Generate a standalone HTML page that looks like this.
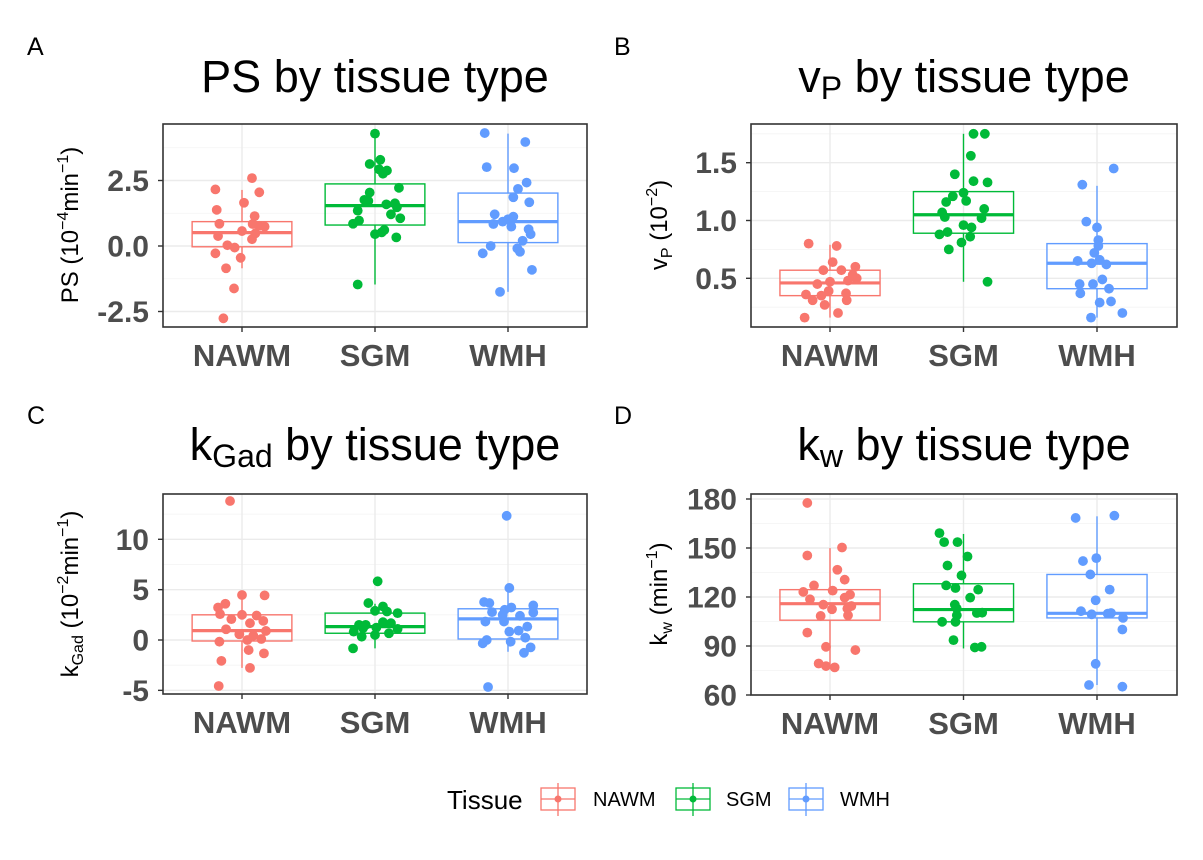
<!DOCTYPE html>
<html><head><meta charset="utf-8"><style>
html,body{margin:0;padding:0;background:#fff;}
svg{display:block;font-family:"Liberation Sans",Arial,sans-serif;}
</style></head><body>
<svg id="fig" width="1203" height="860" viewBox="0 0 1203 860" xmlns="http://www.w3.org/2000/svg">
<rect x="0" y="0" width="1203" height="860" fill="#fff"/>
</svg>
<script>
// ---------- data ----------
const categories = ["NAWM","SGM","WMH"];
const colors = ["#F8766D","#00BA38","#619CFF"];

// Panel A: PS
const psTicks = [-2.5, 0.0, 2.5];
const psTickLabels = ["-2.5","0.0","2.5"];
const psNAWM = [2.16,2.59,2.05,1.65,1.38,0.85,1.14,0.84,0.77,0.74,0.57,0.38,0.48,0.26,0.03,-0.06,-0.28,-0.45,-0.85,-1.62,-2.76];
const psNAWMJit = [-0.2,0.075,0.13,0.015,-0.19,-0.17,0.095,0.08,0.13,0.17,0,-0.18,0.1,0.075,-0.11,-0.055,-0.2,-0.01,-0.12,-0.06,-0.14];
const psSGM = [4.29,3.13,3.29,2.93,2.88,2.76,2.22,2.04,1.76,1.72,1.59,1.63,1.48,1.35,1.21,1.06,0.97,0.85,0.61,0.52,0.45,0.33,-1.47];
const psSGMJit = [0,-0.04,0.04,0.03,0.09,0.06,0.18,-0.04,-0.08,-0.05,0.085,0.15,0.165,-0.13,0.12,0.19,-0.12,-0.165,0.07,0.05,0,0.16,-0.13];
const psWMH = [4.31,3.97,3.01,2.97,2.42,2.18,1.86,1.67,1.21,1.12,1.02,0.93,0.84,0.74,0.64,0.45,0.2,0,-0.09,-0.22,-0.28,-0.91,-1.75];
const psWMHJit = [-0.175,0.13,-0.16,0.045,0.14,0.075,0.04,0.16,-0.1,0.04,0,-0.04,-0.11,0.025,0.155,0.17,0.11,-0.13,0.07,0.09,-0.19,0.18,-0.06];
const psBoxLow = [-0.85,-1.47,-1.75];
const psBoxQ1 = [-0.03,0.80,0.13];
const psBoxMed = [0.51,1.54,0.93];
const psBoxQ3 = [0.93,2.37,2.02];
const psBoxHigh = [2.14,4.29,4.29];

// Panel B: vP
const vpTicks = [0.5,1.0,1.5];
const vpTickLabels = ["0.5","1.0","1.5"];
const vpNAWM = [0.80,0.78,0.64,0.57,0.57,0.60,0.53,0.48,0.50,0.47,0.45,0.39,0.36,0.35,0.37,0.31,0.31,0.27,0.20,0.16];
const vpNAWMJit = [-0.16,0.05,0.02,-0.05,0.085,0.19,0.17,0.135,0.2,0,-0.095,-0.01,-0.18,-0.065,0.12,-0.13,0.125,-0.04,0.06,-0.19];
const vpSGM = [1.75,1.75,1.56,1.40,1.34,1.33,1.24,1.21,1.17,1.16,1.10,1.07,1.03,1.02,0.96,0.94,0.90,0.88,0.86,0.81,0.75,0.47];
const vpSGMJit = [0.075,0.16,0.055,-0.065,0.075,0.18,0,-0.08,0.02,-0.13,0.155,-0.16,-0.14,0.135,0,0.06,-0.12,-0.18,0.05,-0.015,-0.11,0.18];
const vpWMH = [1.45,1.31,0.99,0.94,0.83,0.78,0.72,0.65,0.66,0.63,0.62,0.49,0.45,0.45,0.41,0.37,0.29,0.30,0.20,0.16];
const vpWMHJit = [0.125,-0.11,-0.08,0,0.01,0.01,-0.02,-0.145,0.02,-0.04,0.07,0.04,-0.13,-0.03,0.09,-0.125,0.02,0.105,0.19,-0.045];
const vpBoxLow = [0.16,0.47,0.16];
const vpBoxQ1 = [0.35,0.89,0.41];
const vpBoxMed = [0.46,1.05,0.63];
const vpBoxQ3 = [0.57,1.25,0.80];
const vpBoxHigh = [0.79,1.75,1.30];

// Panel C: kGad
const kgTicks = [-5,0,5,10];
const kgTickLabels = ["-5","0","5","10"];
const kgNAWM = [13.8,4.47,4.43,3.6,3.23,2.57,2.5,2.43,2.07,1.9,1.67,1.07,0.9,0.57,0.43,0.1,0,-0.17,-1.0,-1.33,-2.07,-2.77,-4.57];
const kgNAWMJit = [-0.09,0,0.17,-0.125,-0.18,-0.165,0,0.11,-0.08,0.16,0.06,-0.12,0.18,-0.02,0.085,0.145,0.04,-0.17,0.05,0.165,-0.155,0.06,-0.175];
const kgSGM = [5.83,3.67,3.33,2.9,2.83,2.67,1.5,1.5,1.77,1.67,0.83,1.17,1.23,1.1,0.67,0.33,0.5,-0.83];
const kgSGMJit = [0.02,-0.05,0.06,0,0.09,0.17,-0.12,-0.07,0.06,0.12,-0.16,-0.09,0.01,0.17,0.105,-0.1,0,-0.165];
const kgWMH = [12.33,5.17,3.77,3.67,3.43,3.23,2.77,3.0,2.73,2.4,2.5,1.83,1.83,1.33,0.93,0.83,0.23,-0.17,0,-0.33,-0.73,-1.27,-4.67];
const kgWMHJit = [-0.01,0.01,-0.18,-0.14,0.19,0.025,-0.12,-0.025,0.19,0.09,-0.04,-0.17,-0.03,0.145,0.08,0.01,0.13,0.02,-0.16,-0.19,0.17,0.12,-0.15];
const kgBoxLow = [-2.77,-0.83,-1.17];
const kgBoxQ1 = [-0.1,0.67,0.1];
const kgBoxMed = [0.93,1.33,2.1];
const kgBoxQ3 = [2.5,2.67,3.1];
const kgBoxHigh = [4.47,3.6,5.17];

// Panel D: kw
const kwTicks = [60,90,120,150,180];
const kwTickLabels = ["60","90","120","150","180"];
const kwNAWM = [177.6,150.3,145.4,136.7,130.6,127.1,123.9,123.1,121.4,119.6,118.6,115.3,114.5,112.5,112.9,108.8,108.4,98.2,89.5,87.5,79.3,77.7,76.9];
const kwNAWMJit = [-0.17,0.09,-0.17,0.055,0.11,-0.12,0.02,-0.2,0.15,0.11,-0.15,-0.05,0.16,0.015,0.13,0.135,-0.07,-0.17,-0.03,0.19,-0.085,-0.03,0.035];
const kwSGM = [159.1,153.6,153.6,144.8,139.3,133.2,127.1,125.5,124.5,119.6,115.3,112.9,110.2,110.4,108.8,104.8,104.8,93.6,89.1,89.5];
const kwSGMJit = [-0.18,-0.145,-0.045,0.03,-0.12,-0.015,-0.13,-0.06,0.11,0.05,-0.065,-0.05,0.1,0.14,-0.05,-0.16,-0.06,-0.075,0.085,0.135];
const kwWMH = [168.4,169.8,142.0,143.8,133.8,124.5,118.0,111.3,109.4,109.8,110.2,107.2,100.1,79.1,66.1,65.1];
const kwWMHJit = [-0.16,0.13,-0.105,-0.005,-0.05,0.095,-0.01,-0.12,-0.04,0.08,0.105,0.195,0.19,-0.01,-0.06,0.19];
const kwBoxLow = [77.3,88.5,66.1];
const kwBoxQ1 = [105.8,104.8,107.2];
const kwBoxMed = [115.9,112.3,110.0];
const kwBoxQ3 = [124.5,128.1,133.8];
const kwBoxHigh = [149.9,158.6,169.4];

// ---------- drawing ----------
const NS = "http://www.w3.org/2000/svg";
const svg = document.getElementById("fig");
function mk(tag, attrs, parent){
  const e = document.createElementNS(NS, tag);
  for (const k in attrs) e.setAttribute(k, attrs[k]);
  (parent||svg).appendChild(e);
  return e;
}

function drawPanel(p){
  const g = mk("g", {});
  
  
  const L=p.left, R=p.right, T=p.top, B=p.bottom;
  const yS = v => p.y0 + (v - p.v0) * (p.y1 - p.y0) / (p.v1 - p.v0);
  const cx0 = p.c0, step = p.step;
  const xS = c => cx0 + c * step;
  mk("rect", {x:L, y:T, width:R-L, height:B-T, fill:"#fff"}, g);
  const gridG = mk("g", {}, g);
  
  
  const tickStep = p.ticks[1]-p.ticks[0];
  for (let v = p.ticks[0] - tickStep*2; v <= p.ticks[p.ticks.length-1] + tickStep*2; v += tickStep/2){
    const y = yS(v);
    if (y < T || y > B) continue;
    const major = p.ticks.some(t => Math.abs(t - v) < 1e-9);
    mk("line", {x1:L, x2:R, y1:y, y2:y, stroke: major?"#ebebeb":"#f3f3f3", "stroke-width": major?1.4:0.8}, gridG);
  }
  categories.forEach((c,i)=>{
    mk("line", {x1:xS(i), x2:xS(i), y1:T, y2:B, stroke:"#ebebeb", "stroke-width":1.4}, gridG);
  });
  const half = 0.375*step;
  categories.forEach((c,i)=>{
    const bg = mk("g", {}, g);
    
    
    const x = xS(i), col = colors[i];
    mk("line", {x1:x, x2:x, y1:yS(p.high[i]), y2:yS(p.q3[i]), stroke:col, "stroke-width":1.4}, bg);
    mk("line", {x1:x, x2:x, y1:yS(p.q1[i]), y2:yS(p.low[i]), stroke:col, "stroke-width":1.4}, bg);
    const yq3 = yS(p.q3[i]), yq1 = yS(p.q1[i]);
    mk("rect", {x:x-half, y:Math.min(yq3,yq1), width:2*half, height:Math.abs(yq1-yq3), fill:"none", stroke:col, "stroke-width":1.4}, bg);
    mk("line", {x1:x-half, x2:x+half, y1:yS(p.med[i]), y2:yS(p.med[i]), stroke:col, "stroke-width":3.2}, bg);
  });
  p.series.forEach((s,i)=>{
    const pg = mk("g", {}, g);
    
    
    s.vals.forEach((v,j)=>{
      const pt = mk("circle", {cx:xS(i + s.jit[j]), cy:yS(v), r:4.9, fill:colors[i]}, pg);
      
      
    });
  });
  const br = mk("rect", {x:L, y:T, width:R-L, height:B-T, fill:"none", stroke:"#333", "stroke-width":1.6}, g);
  
  
  const yax = mk("g", {}, g);
  
  
  p.ticks.forEach((t,k)=>{
    const y = yS(t);
    mk("line", {x1:L-5, x2:L, y1:y, y2:y, stroke:"#333", "stroke-width":1.4}, yax);
    const tx = mk("text", {x:L-14, y:y+10.5, "text-anchor":"end", "font-size":30, "font-weight":"bold", fill:"#4d4d4d"}, yax);
    tx.textContent = p.tickLabels[k];
    
    
  });
  const xax = mk("g", {}, g);
  
  
  categories.forEach((c,i)=>{
    const x = xS(i);
    mk("line", {x1:x, x2:x, y1:B, y2:B+5, stroke:"#333", "stroke-width":1.4}, xax);
    const tx = mk("text", {x:x, y:B+39, "text-anchor":"middle", "font-size":31, "font-weight":"bold", fill:"#4d4d4d"}, xax);
    tx.textContent = c;
    
    
  });
}

drawPanel({name:"ps", left:163, right:587, top:124, bottom:327, c0:242, step:133,
  v0:0, y0:246, v1:2.5, y1:180.5, ticks:psTicks, tickLabels:psTickLabels,
  low:psBoxLow, q1:psBoxQ1, med:psBoxMed, q3:psBoxQ3, high:psBoxHigh,
  series:[{vals:psNAWM,jit:psNAWMJit},{vals:psSGM,jit:psSGMJit},{vals:psWMH,jit:psWMHJit}]});
drawPanel({name:"vp", left:751, right:1177, top:124, bottom:327, c0:830, step:133.5,
  v0:0.5, y0:278.3, v1:1.5, y1:162.7, ticks:vpTicks, tickLabels:vpTickLabels,
  low:vpBoxLow, q1:vpBoxQ1, med:vpBoxMed, q3:vpBoxQ3, high:vpBoxHigh,
  series:[{vals:vpNAWM,jit:vpNAWMJit},{vals:vpSGM,jit:vpSGMJit},{vals:vpWMH,jit:vpWMHJit}]});
drawPanel({name:"kgad", left:163, right:587, top:494, bottom:694, c0:242, step:133,
  v0:0, y0:640, v1:10, y1:539.3, ticks:kgTicks, tickLabels:kgTickLabels,
  low:kgBoxLow, q1:kgBoxQ1, med:kgBoxMed, q3:kgBoxQ3, high:kgBoxHigh,
  series:[{vals:kgNAWM,jit:kgNAWMJit},{vals:kgSGM,jit:kgSGMJit},{vals:kgWMH,jit:kgWMHJit}]});
drawPanel({name:"kw", left:751, right:1177, top:494, bottom:695, c0:830, step:133.5,
  v0:60, y0:695, v1:180, y1:499, ticks:kwTicks, tickLabels:kwTickLabels,
  low:kwBoxLow, q1:kwBoxQ1, med:kwBoxMed, q3:kwBoxQ3, high:kwBoxHigh,
  series:[{vals:kwNAWM,jit:kwNAWMJit},{vals:kwSGM,jit:kwSGMJit},{vals:kwWMH,jit:kwWMHJit}]});
</script>
<svg style="position:absolute;left:0;top:0" width="1203" height="860" viewBox="0 0 1203 860" xmlns="http://www.w3.org/2000/svg" font-family="Liberation Sans, Arial, sans-serif">
  <text x="27" y="55" font-size="25">A</text>
  <text x="614" y="55" font-size="25">B</text>
  <text x="27" y="424" font-size="25">C</text>
  <text x="614" y="424" font-size="25">D</text>

  <text x="375" y="92" text-anchor="middle" font-size="45">PS by tissue type</text>
  <text x="964" y="92" text-anchor="middle" font-size="45">v<tspan font-size="32" dy="7">P</tspan><tspan dy="-7"> by tissue type</tspan></text>
  <text x="375" y="460" text-anchor="middle" font-size="45">k<tspan font-size="32" dy="7">Gad</tspan><tspan dy="-7"> by tissue type</tspan></text>
  <text x="964" y="460" text-anchor="middle" font-size="45">k<tspan font-size="32" dy="7">w</tspan><tspan dy="-7"> by tissue type</tspan></text>

  <text transform="translate(78,225) rotate(-90)" text-anchor="middle" font-size="24">PS (10<tspan font-size="16" dy="-10">−4</tspan><tspan dy="10">min</tspan><tspan font-size="16" dy="-10">−1</tspan><tspan dy="10">)</tspan></text>
  <text transform="translate(667,225) rotate(-90)" text-anchor="middle" font-size="24">v<tspan font-size="16" dy="5">P</tspan><tspan dy="-5"> (10</tspan><tspan font-size="16" dy="-10">−2</tspan><tspan dy="10">)</tspan></text>
  <text transform="translate(78,594) rotate(-90)" text-anchor="middle" font-size="24">k<tspan font-size="16" dy="5">Gad</tspan><tspan dy="-5"> (10</tspan><tspan font-size="16" dy="-10">−2</tspan><tspan dy="10">min</tspan><tspan font-size="16" dy="-10">−1</tspan><tspan dy="10">)</tspan></text>
  <text transform="translate(667,594) rotate(-90)" text-anchor="middle" font-size="24">k<tspan font-size="16" dy="5">w</tspan><tspan dy="-5"> (min</tspan><tspan font-size="16" dy="-10">−1</tspan><tspan dy="10">)</tspan></text>

  <g>
    <text x="447" y="809" font-size="26">Tissue</text>
    <g stroke="#F8766D" stroke-width="1.3" fill="none">
      <line x1="558" x2="558" y1="783" y2="816"/><rect x="541" y="788" width="34" height="22"/><line x1="541" x2="575" y1="799" y2="799"/><circle cx="558" cy="799" r="3.5" fill="#F8766D" stroke="none"/>
    </g>
    <text x="593" y="806" font-size="20">NAWM</text>
    <g stroke="#00BA38" stroke-width="1.3" fill="none">
      <line x1="693" x2="693" y1="783" y2="816"/><rect x="676" y="788" width="34" height="22"/><line x1="676" x2="710" y1="799" y2="799"/><circle cx="693" cy="799" r="3.5" fill="#00BA38" stroke="none"/>
    </g>
    <text x="726" y="806" font-size="20">SGM</text>
    <g stroke="#619CFF" stroke-width="1.3" fill="none">
      <line x1="806" x2="806" y1="783" y2="816"/><rect x="789" y="788" width="34" height="22"/><line x1="789" x2="823" y1="799" y2="799"/><circle cx="806" cy="799" r="3.5" fill="#619CFF" stroke="none"/>
    </g>
    <text x="840" y="806" font-size="20">WMH</text>
  </g>
</svg>
</body></html>
